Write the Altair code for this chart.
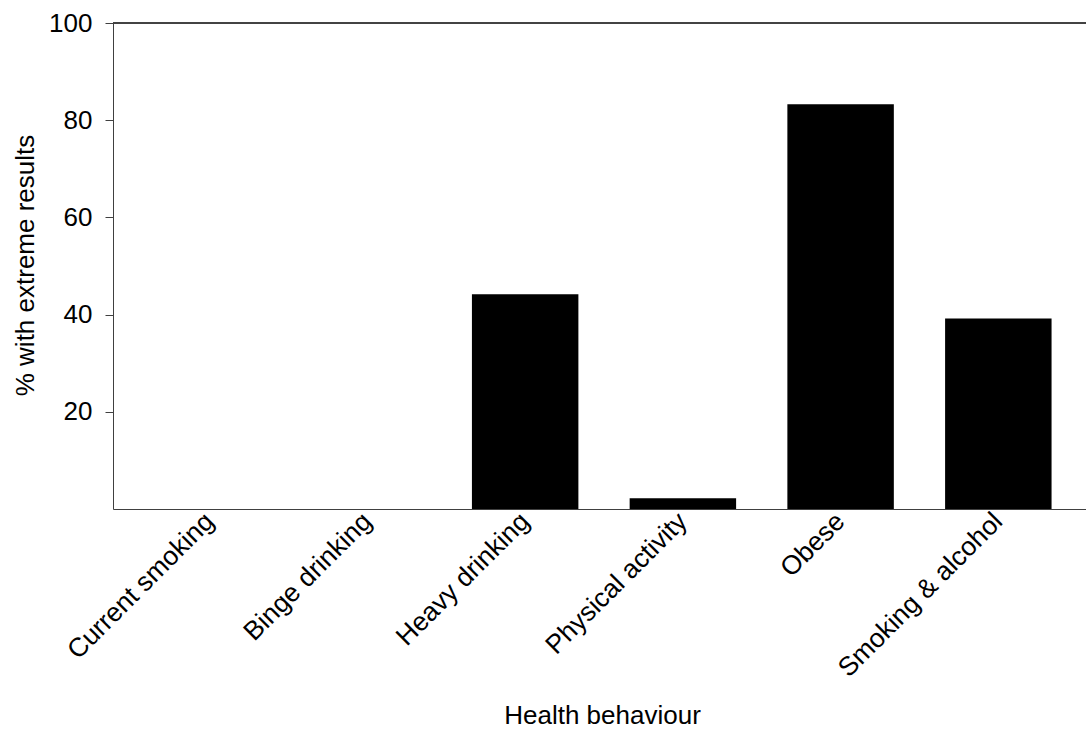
import altair as alt
import pandas as pd

# Share of participants with extreme results, by health behaviour
behaviours = [
    "Current smoking",
    "Binge drinking",
    "Heavy drinking",
    "Physical activity",
    "Obese",
    "Smoking & alcohol",
]
pct_extreme = [0, 0, 44.2, 2.2, 83.3, 39.2]
y_ticks = [20, 40, 60, 80, 100]

df = pd.DataFrame({"behaviour": behaviours, "pct": pct_extreme})

FONT = "Liberation Sans"
AXIS_COLOR = "#404040"

bars = (
    alt.Chart(df)
    .mark_bar(color="black")
    .encode(
        x=alt.X(
            "behaviour:N",
            sort=behaviours,
            scale=alt.Scale(paddingInner=0.325, paddingOuter=0.247, align=0.558),
            axis=alt.Axis(
                title="Health behaviour",
                labelAngle=-45,
                labelAlign="right",
                labelBaseline="middle",
                labelPadding=8,
                labelFontSize=26.5,
                labelColor="black",
                labelLimit=400,
                ticks=False,
                domainColor=AXIS_COLOR,
                titleFontSize=26,
                titleFontWeight="normal",
                titleColor="black",
                titleX=489,
                titleY=214,
                titleAlign="center",
                titleBaseline="alphabetic",
            ),
        ),
        y=alt.Y(
            "pct:Q",
            scale=alt.Scale(domain=[0, 100], nice=False),
            axis=alt.Axis(
                title="% with extreme results",
                values=y_ticks,
                grid=False,
                tickSize=8,
                tickColor=AXIS_COLOR,
                domainColor=AXIS_COLOR,
                labelFontSize=26,
                labelColor="black",
                labelPadding=13,
                labelBaseline="middle",
                titleFontSize=26,
                titleFontWeight="normal",
                titleColor="black",
                titleAngle=-90,
                titleX=-80,
                titleY=242,
                titleAlign="center",
                titleBaseline="alphabetic",
            ),
        ),
    )
)

# Frame line along the top of the plot area
top_line = (
    alt.Chart(df)
    .mark_rule(color=AXIS_COLOR, strokeWidth=1)
    .encode(y=alt.datum(100))
)

chart = (
    alt.layer(bars, top_line)
    .properties(
        width=973,
        height=486,
        padding={"left": 113, "top": 23, "right": 0, "bottom": 220},
        autosize=alt.AutoSizeParams(type="none"),
    )
    .configure_view(stroke=None)
    .configure_axis(labelFont=FONT, titleFont=FONT)
)

chart.save("out.html", embed_options={"renderer": "svg", "actions": False})
